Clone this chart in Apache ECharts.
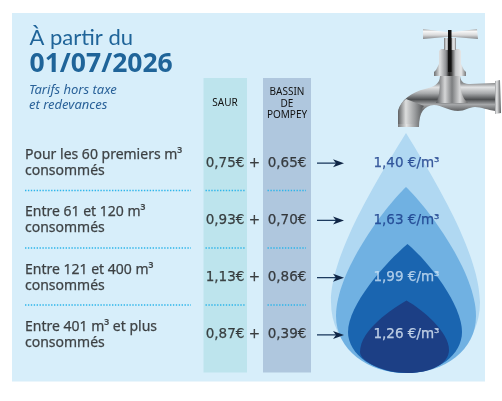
<!DOCTYPE html>
<html><head><meta charset="utf-8">
<style>html,body{margin:0;padding:0;background:#fff}#c{width:502px;height:401px}</style>
<script src="https://cdn.jsdelivr.net/npm/echarts@6/dist/echarts.min.js"></script>
</head><body><div id="c"></div>
<script>
const titleLine = "À partir du";
const titleDate = "01/07/2026";
const subtitleLines = ["Tarifs hors taxe", "et redevances"];
const rows = ["Pour les 60 premiers m³\nconsommés", "Entre 61 et 120 m³\nconsommés", "Entre 121 et 400 m³\nconsommés", "Entre 401 m³ et plus\nconsommés"];
const saur = [0.75, 0.93, 1.13, 0.87];
const bassin = [0.65, 0.70, 0.86, 0.39];
const totals = [1.40, 1.63, 1.99, 1.26];
const saurHeader = "SAUR";
const bassinHeader = "BASSIN\nDE\nPOMPEY";
const unit = " €/m³";

const SANS = '"Noto Sans", sans-serif';
const VERD = '"DejaVu Sans", sans-serif';
const fmt = v => v.toFixed(2).replace('.', ',');
const X = {row:25, saur:225, plus:254.5, bassin:287, arrowA:317, arrowB:344, total:406.5};
const totalColors = ['#173a88','#173a88','#c9e0f4','#dbe9f6'];

function col(x, vals, fn, colorFn, font, size, align){
  return {type:'scatter', symbolSize:1, itemStyle:{color:'transparent'}, silent:true, z:5,
    data: vals.map((v,i)=>({value:[x,i], label:{color: colorFn(i), textBorderColor: colorFn(i), textBorderWidth:0.25}})),
    label:{show:true, position:'inside', formatter:p=>fn(vals[p.dataIndex]),
      fontFamily:font, fontSize:size, align:align||'center', verticalAlign:'middle', lineHeight:16}};
}

function metal(stops, hor){
  return {type:'linear', x:0, y:0, x2:hor?1:0, y2:hor?0:1, colorStops:stops.map(s=>({offset:s[0],color:s[1]}))};
}
const hMetal = metal([[0,'#6f7173'],[.18,'#dfe1e2'],[.38,'#8d8f92'],[.47,'#222'],[.55,'#444'],[.68,'#c7c9cb'],[.85,'#e7e8e9'],[1,'#77797b']],true);
const vMetal = metal([[0,'#8a8c8e'],[.14,'#8a8c8e'],[.22,'#e2e3e4'],[.34,'#a8aaac'],[.46,'#4d4f51'],[.56,'#a6a8aa'],[.66,'#6b6d6f'],[1,'#87898b']],false);

function el(type, shape, style, z){ return {type, shape, style, z:z||1, silent:true}; }
function text(x,y,t,font,size,color,weight,italic,align,lh){
  return {type:'text', x, y, z:3, silent:true, style:{text:t, fontFamily:font, fontSize:size, fill:color,
    fontWeight:weight||'normal', fontStyle:italic?'italic':'normal', align:align||'left', verticalAlign:'middle', lineHeight:lh||11.5}};
}
const dots = [];
[190.5,248,305].forEach(y=>{
  [[25,191],[205.5,245],[267.5,306]].forEach(a=>dots.push(el('line',{x1:a[0],y1:y,x2:a[1],y2:y},{stroke:'#2db5ea',lineWidth:1.3,lineDash:[1.4,1.5]},2)));
});
const g = [
  el('rect',{x:12,y:13,width:473,height:368.5},{fill:'#d7eefa'},0),
  el('rect',{x:203.5,y:78,width:43.5,height:294.5},{fill:'#bde4ed'},1),
  el('rect',{x:263,y:78,width:48,height:294.5},{fill:'#afc7de'},1),
  ...dots,
  text(29.5,38,titleLine,'Lato, sans-serif',22,'#1f6499'),
  text(29.5,64,titleDate,SANS,26.5,'#1f6499','bold'),
  text(29,90,subtitleLines[0],SANS,13,'#2a6299',null,true),
  text(29,105,subtitleLines[1],SANS,13,'#2a6299',null,true),
  text(225,103,saurHeader,SANS,10,'#111',null,false,'center'),
  text(287,104,bassinHeader,SANS,10,'#111',null,false,'center')
];

const art = [
  // drop layers
  ['M406 133 C386 166 331 250 331 302 C331 345 368 373 406 373 C445 373 480 345 480 302 C480 250 426 166 406 133 Z','#b0d8f2'],
  ['M406 187 C384 208 336 272 336 316 C336 350 368 373 406 373 C445 373 476 350 476 316 C476 272 428 208 406 187 Z','#70b1e2'],
  ['M407.5 244 C385 263 348 305 348 332 C348 355 375 373 406 373 C438 373 462 355 462 332 C462 305 430 263 407.5 244 Z','#1a65b0'],
  ['M406.5 300.5 C392 309 360 330 360 352 C360 362 385 373 408 373 C430 373 449 364 449 350 C449 332 423 310 406.5 300.5 Z','#1c3f85'],
  // tap
  ['M398 127 L398 112 C400 100 412 92 425 89 C432 87 440 85 440 76 L460 76 C461 83 465 84 470 84 L495 83 L495 111 C488 110 481 107 475 107 C469 107 465 111 458 111 C448 111 442 105 434 105 C424 106 419 112 419 127 Z',vMetal],
  ['M398 127 L398 112 C399 106 402 102 406 99 L424 106 C420 110 419 116 419 127 Z',metal([[0,'#5e6062'],[.3,'#dcdddd'],[.65,'#9a9c9e'],[1,'#505254']],true)],
  ['M398 127 L419 127 L419 124 L398 124 Z',metal([[0,'#77797b'],[.4,'#e2e3e3'],[1,'#7a7c7e']],true)],
  ['M495 81 L500 80 L501 113 L495 114 Z',metal([[0,'#9a9c9e'],[.3,'#e5e6e7'],[1,'#5a5c5e']],true)],
  ['M440 76 L460 76 C460 90 462 98 468 103 L436 103 C439 98 440 90 440 76 Z',metal([[0,'#55575a'],[.28,'#d5d6d7'],[.5,'#7c7e80'],[.75,'#d9dadb'],[1,'#666']],true)],
  ['M441 49 L459 49 L461 51 L461 64 L464 70 L466 72 L466 76 L434 76 L434 72 L436 70 L439 64 L439 51 Z',hMetal],
  ['M444 38 L456 38 L456 50 L444 50 Z',hMetal],
  ['M423 29 L446 32 L454 32 L477 29 L478 39 L454 37 L446 37 L423 39 Z',metal([[0,'#a9abad'],[.25,'#f6f6f6'],[.6,'#d9dadb'],[1,'#85878a']],false)],
  ['M448 30 L451.5 30 L451.5 72 L448 72 Z','#111']
];
const artSeries = {type:'custom', silent:true, z:3, coordinateSystem:'none', data:[0],
  renderItem:()=>({type:'group',children:art.map(a=>({type:'path',shape:{pathData:a[0]},style:{fill:a[1]}}))})};

const arrowSeries = {type:'custom', silent:true, z:4, coordinateSystem:'cartesian2d', data:rows.map((r,i)=>[X.arrowA,i]),
  renderItem:(params,api)=>{
    const a=api.coord([X.arrowA,api.value(1)]), b=api.coord([X.arrowB,api.value(1)]);
    return {type:'group',children:[
      {type:'line',shape:{x1:a[0],y1:a[1],x2:b[0]-5,y2:a[1]},style:{stroke:'#1c3a5e',lineWidth:1.3}},
      {type:'polygon',shape:{points:[[b[0],a[1]],[b[0]-11,a[1]-4],[b[0]-8,a[1]],[b[0]-11,a[1]+4]]},style:{fill:'#0f2545'}}
    ]};
  }};

const chart = echarts.init(document.getElementById('c'),null,{renderer:'canvas'});
chart.setOption({
  animation:false, backgroundColor:'#fff',
  grid:{left:0,right:0,top:134.5,height:229},
  xAxis:{type:'value',min:0,max:502,show:false},
  yAxis:{type:'category',data:rows,inverse:true,show:false},
  graphic:{elements:g},
  series:[
    artSeries,
    col(X.row,rows,v=>v,()=>'#1a1a1a',SANS,14,'left'),
    col(X.saur,saur,v=>fmt(v)+'€',()=>'#1a1a1a',VERD,13.5),
    col(X.plus,rows,()=>'+',()=>'#1a1a1a',VERD,13.5),
    col(X.bassin,bassin,v=>fmt(v)+'€',()=>'#1a1a1a',VERD,13.5),
    col(X.total,totals,v=>fmt(v)+unit,i=>totalColors[i],VERD,13.5),
    arrowSeries
  ]
});
</script></body></html>
